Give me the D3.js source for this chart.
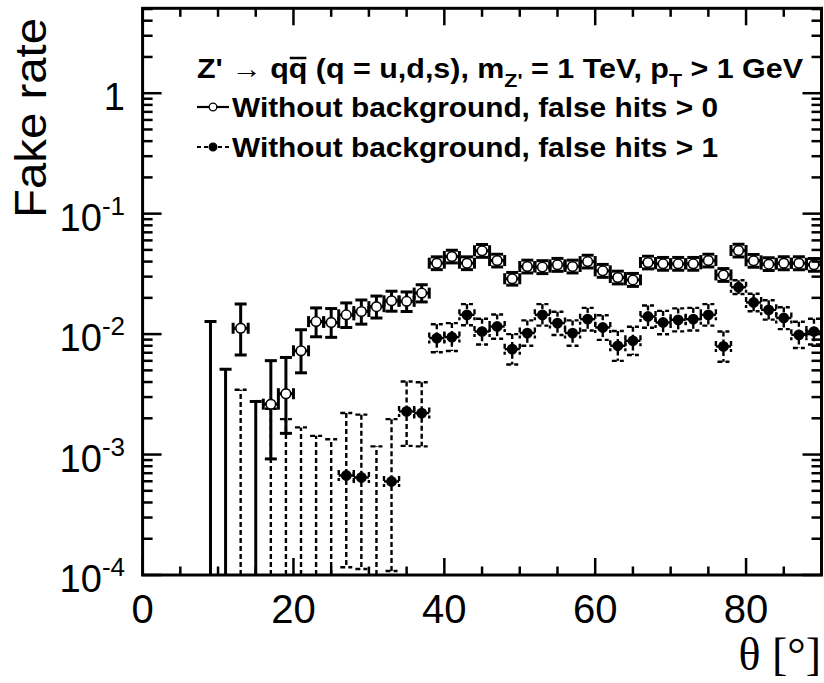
<!DOCTYPE html>
<html><head><meta charset="utf-8">
<script src="https://cdn.jsdelivr.net/npm/d3@7"></script>
<style>body{margin:0;background:#fff}svg{display:block}</style>
</head><body>
<svg id="chart" width="824" height="683"></svg>
<script>
// Bin centres (degrees, 2-degree bins) and fake rates with asymmetric errors
const thetaHits0 = [9,11,13,15,17,19,21,23,25,27,29,31,33,35,37,39,41,43,45,47,49,51,53,55,57,59,61,63,65,67,69,71,73,75,77,79,81,83,85,87,89];
const rateHits0 = [0,0,0.0112,0,0.00262,0.0032,0.00727,0.0127,0.0125,0.01445,0.0154,0.0169,0.0189,0.0187,0.0219,
  0.0388,0.0441,0.0388,0.0491,0.0408,0.0288,0.0364,0.036,0.0376,0.0364,0.040,0.0335,0.0295,0.0282,0.0393,0.0383,0.0383,0.0383,0.0408,0.031,0.0494,0.0406,0.0381,0.0388,0.0388,0.0376];
const errUpHits0 = [0.0127,0.0051,0.0066,0.00276,0.0034,0.0032,0.0036,0.0038,0.0038,0.0037,0.0038,0.0038,0.0038,0.0037,0.0038,
  0.0050,0.0057,0.0050,0.0064,0.0053,0.0037,0.0047,0.0047,0.0049,0.0047,0.0052,0.0044,0.0038,0.0037,0.0051,0.0050,0.0050,0.0050,0.0053,0.0040,0.0064,0.0053,0.0050,0.0050,0.0050,0.0049];
const errDownHits0 = [0,0,0.0045,0,0.0017,0.0017,0.0025,0.0032,0.0031,0.0031,0.0033,0.0033,0.0034,0.0033,0.0034,
  0.0045,0.0051,0.0045,0.0057,0.0047,0.0033,0.0042,0.0042,0.0044,0.0042,0.0046,0.0039,0.0034,0.0033,0.0045,0.0044,0.0044,0.0044,0.0047,0.0036,0.0057,0.0047,0.0044,0.0045,0.0045,0.0044];

const thetaHits1 = [13,17,19,21,23,25,27,29,31,33,35,37,39,41,43,45,47,49,51,53,55,57,59,61,63,65,67,69,71,73,75,77,79,81,83,85,87,89];
const rateHits1 = [0,0,0,0,0,0,0.00067,0.000645,0,0.000598,0.00228,0.00221,
  0.00927,0.00944,0.01445,0.0105,0.01156,0.0075,0.0102,0.01445,0.01234,0.0102,0.0133,0.01135,0.0080,0.0088,0.014,0.01248,0.01314,0.0133,0.01445,0.0079,0.0245,0.0183,0.0159,0.0136,0.00986,0.0105];
const errUpHits1 = [0.00345,0.0024,0.00197,0.00168,0.00143,0.00134,0.00154,0.0015,0.00117,0.00137,0.00176,0.00177,
  0.0028,0.0029,0.0033,0.0029,0.0030,0.0025,0.0028,0.0033,0.0030,0.0028,0.0032,0.0030,0.0026,0.0027,0.0033,0.0031,0.0032,0.0032,0.0033,0.0026,0.0035,0.0033,0.0032,0.0031,0.0028,0.0029];
const errDownHits1 = [0,0,0,0,0,0,0.000554,0.000533,0,0.00049,0.0011,0.00104,
  0.0022,0.0022,0.0026,0.0023,0.0024,0.0019,0.0022,0.0027,0.0025,0.0022,0.0026,0.0024,0.0020,0.0021,0.0027,0.0025,0.0026,0.0026,0.0027,0.0020,0.0030,0.0028,0.0027,0.0026,0.0022,0.0023];

const binHalfWidth = 1;
const xMajorTicks = [0,20,40,60,80];
const xMinorTicks = [5,10,15,25,30,35,45,50,55,65,70,75,85];
const yDecades = [1e-4,1e-3,1e-2,1e-1,1];
const yDecadeLabels = [["10","-4"],["10","-3"],["10","-2"],["10","-1"],["1",""]];
const xDomain = [0, 90];
const yDomain = [1e-4, 5.07];

const svg = d3.select("#chart");
const L = 142.6, R = 821.5, T = 8.3, B = 575;
const x = d3.scaleLinear().domain(xDomain).range([L, R]);
const y = d3.scaleLog().domain(yDomain).range([B, T]);

svg.append("defs").append("clipPath").attr("id","plotclip")
  .append("rect").attr("x",L).attr("y",T).attr("width",R-L).attr("height",B-T);

const plot = svg.append("g").attr("clip-path","url(#plotclip)");

function drawSeries(theta, rate, up, down, opt) {
  const g = plot.append("g")
    .attr("stroke","#000").attr("stroke-width",opt.lw).attr("fill","none")
    .attr("stroke-dasharray",opt.dash || null);
  const capH = 5.5, capW = 6;
  theta.forEach((t, i) => {
    const v = rate[i];
    const px = x(t);
    const x0 = x(t - binHalfWidth), x1 = x(t + binHalfWidth);
    const yTop = y(v + up[i]);
    if (v <= 0) {
      // empty bin: only the upper error is drawn, from the axis up
      g.append("line").attr("x1",px).attr("x2",px).attr("y1",B).attr("y2",yTop);
      g.append("line").attr("x1",px-capW).attr("x2",px+capW).attr("y1",yTop).attr("y2",yTop);
      return;
    }
    const py = y(v);
    const lowVal = v - down[i];
    const yBot = lowVal > 0 ? y(lowVal) : B + 20;
    const r = opt.r;
    // horizontal bar with end caps
    g.append("line").attr("x1",x0).attr("x2",px-r).attr("y1",py).attr("y2",py);
    g.append("line").attr("x1",px+r).attr("x2",x1).attr("y1",py).attr("y2",py);
    g.append("line").attr("x1",x0).attr("x2",x0).attr("y1",py-capH).attr("y2",py+capH);
    g.append("line").attr("x1",x1).attr("x2",x1).attr("y1",py-capH).attr("y2",py+capH);
    // vertical bar with end caps
    if (yTop < py - r) g.append("line").attr("x1",px).attr("x2",px).attr("y1",yTop).attr("y2",py-r);
    if (yBot > py + r) g.append("line").attr("x1",px).attr("x2",px).attr("y1",py+r).attr("y2",yBot);
    g.append("line").attr("x1",px-capW).attr("x2",px+capW).attr("y1",yTop).attr("y2",yTop);
    if (lowVal > 0) g.append("line").attr("x1",px-capW).attr("x2",px+capW).attr("y1",yBot).attr("y2",yBot);
  });
  plot.append("g").selectAll("circle")
    .data(theta.map((t,i)=>({t, v: rate[i]})).filter(d => d.v > 0))
    .join("circle")
    .attr("cx", d => x(d.t)).attr("cy", d => y(d.v)).attr("r", opt.r)
    .attr("fill", opt.fill).attr("stroke","#000").attr("stroke-width",1.6);
}

drawSeries(thetaHits1, rateHits1, errUpHits1, errDownHits1, {lw:2.4, dash:"5,3", r:4.6, fill:"#000"});
drawSeries(thetaHits0, rateHits0, errUpHits0, errDownHits0, {lw:3, r:4.8, fill:"#fff"});

// frame and ticks
const axes = svg.append("g").attr("stroke","#000").attr("fill","none");
axes.append("rect").attr("x",L).attr("y",T).attr("width",R-L).attr("height",B-T).attr("stroke-width",3);
const tk = axes.append("g").attr("stroke-width",2.5);
xMajorTicks.forEach(v => {
  tk.append("line").attr("x1",x(v)).attr("x2",x(v)).attr("y1",B).attr("y2",B-17);
  tk.append("line").attr("x1",x(v)).attr("x2",x(v)).attr("y1",T).attr("y2",T+17);
});
xMinorTicks.forEach(v => {
  tk.append("line").attr("x1",x(v)).attr("x2",x(v)).attr("y1",B).attr("y2",B-8.5);
  tk.append("line").attr("x1",x(v)).attr("x2",x(v)).attr("y1",T).attr("y2",T+8.5);
});
yDecades.forEach(d => {
  tk.append("line").attr("x1",L).attr("x2",L+19).attr("y1",y(d)).attr("y2",y(d));
  tk.append("line").attr("x1",R).attr("x2",R-19).attr("y1",y(d)).attr("y2",y(d));
  for (let k = 2; k <= 9; k++) {
    const v = d * k;
    if (v > yDomain[1]) break;
    tk.append("line").attr("x1",L).attr("x2",L+10).attr("y1",y(v)).attr("y2",y(v));
    tk.append("line").attr("x1",R).attr("x2",R-10).attr("y1",y(v)).attr("y2",y(v));
  }
});

// tick labels
const font = "'Liberation Sans', Arial, Helvetica, sans-serif";
xMajorTicks.forEach(v => {
  svg.append("text").attr("x",x(v)).attr("y",623).attr("text-anchor","middle")
    .attr("font-family",font).attr("font-size",40).text(v);
});
yDecades.forEach((d,i) => {
  const [base, exp] = yDecadeLabels[i];
  const t = svg.append("text").attr("x",125).attr("y",y(d)+17).attr("text-anchor","end")
    .attr("font-family",font).attr("font-size",38);
  t.append("tspan").text(base);
  if (exp) t.append("tspan").attr("font-size",26).attr("dy",-16).text(exp);
});

// axis titles
svg.append("text").attr("transform","translate(46,218) rotate(-90)")
  .attr("font-family",font).attr("font-size",44)
  .attr("textLength",200).attr("lengthAdjust","spacingAndGlyphs").text("Fake rate");
svg.append("text").attr("x",821).attr("y",670).attr("text-anchor","end")
  .attr("font-family","'Liberation Serif', 'Times New Roman', serif").attr("font-size",46)
  .text("θ [°]");

// legend
const lg = svg.append("g").attr("font-family",font).attr("font-weight","bold").attr("font-size",27);
const head = lg.append("text").attr("x",197).attr("y",78)
  .attr("textLength",606).attr("lengthAdjust","spacingAndGlyphs");
head.append("tspan").text("Z' → qq (q = u,d,s), m");
head.append("tspan").attr("font-size",19).attr("dy",9).text("Z'");
head.append("tspan").attr("dy",-9).text(" = 1 TeV, p");
head.append("tspan").attr("font-size",19).attr("dy",9).text("T");
head.append("tspan").attr("dy",-9).text(" > 1 GeV");
// bar over the antiquark
const qb = head.node().getExtentOfChar(6);
lg.append("line").attr("x1",qb.x+1).attr("x2",qb.x+qb.width-1)
  .attr("y1",qb.y+4).attr("y2",qb.y+4).attr("stroke","#000").attr("stroke-width",2.5);

const legendRows = [
  {label:"Without background, false hits > 0", y:117, fill:"#fff", dash:null},
  {label:"Without background, false hits > 1", y:157, fill:"#000", dash:"4,3"}
];
legendRows.forEach(row => {
  const cy = row.y - 10;
  lg.append("line").attr("x1",197).attr("x2",229).attr("y1",cy).attr("y2",cy)
    .attr("stroke","#000").attr("stroke-width",2.2).attr("stroke-dasharray",row.dash);
  lg.append("circle").attr("cx",213).attr("cy",cy).attr("r",3.8)
    .attr("fill",row.fill).attr("stroke","#000").attr("stroke-width",1.3);
  lg.append("text").attr("x",232).attr("y",row.y)
    .attr("textLength",486).attr("lengthAdjust","spacingAndGlyphs").text(row.label);
});
</script>
</body></html>
